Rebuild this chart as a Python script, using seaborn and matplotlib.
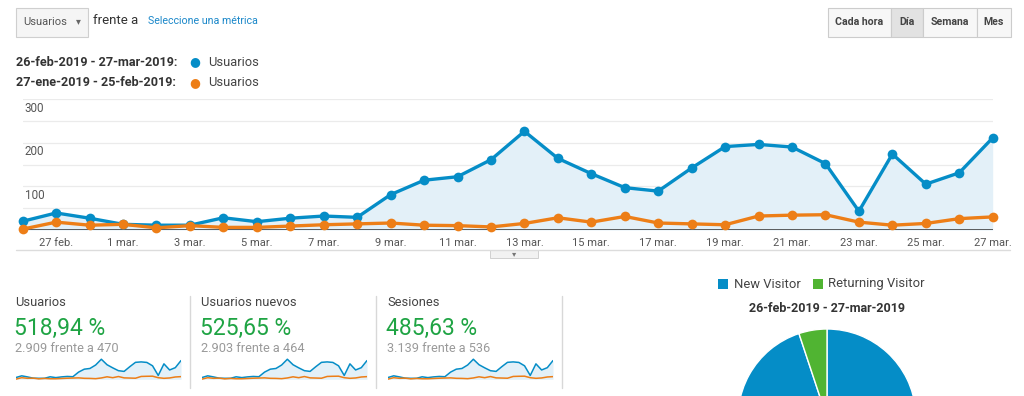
import matplotlib
matplotlib.use("Agg")
import matplotlib.pyplot as plt
from matplotlib.patches import Rectangle
from matplotlib.lines import Line2D
import pandas as pd
import seaborn as sns

# usuarios por dia, 26-feb-2019 .. 27-mar-2019 (actual) y 27-ene .. 25-feb (anterior)
current_users = [20, 39, 27, 13, 11, 11, 28, 19, 27, 32, 29, 81, 114, 122, 161,
                 226, 164, 129, 97, 89, 142, 191, 196, 190, 152, 43, 174, 105, 131, 211]
previous_users = [2, 18, 11, 13, 5, 10, 6, 6, 9, 12, 14, 16, 11, 10, 7,
                  15, 28, 18, 31, 16, 14, 12, 32, 34, 35, 18, 11, 15, 26, 30]
x_tick_pos = [1, 3, 5, 7, 9, 11, 13, 15, 17, 19, 21, 23, 25, 27, 29]
x_tick_labels = ['27 feb.', '1 mar.', '3 mar.', '5 mar.', '7 mar.', '9 mar.', '11 mar.',
                 '13 mar.', '15 mar.', '17 mar.', '19 mar.', '21 mar.', '23 mar.',
                 '25 mar.', '27 mar.']
y_ticks = [100, 200, 300]

range_current = '26-feb-2019 - 27-mar-2019:'
range_previous = '27-ene-2019 - 25-feb-2019:'

metric_names = ['Usuarios', 'Usuarios nuevos', 'Sesiones']
metric_change = ['518,94 %', '525,65 %', '485,63 %']
metric_compare = ['2.909 frente a 470', '2.903 frente a 464', '3.139 frente a 536']

pie_labels = ['New Visitor', 'Returning Visitor']
pie_values = [94.9, 5.1]

period_buttons = ['Cada hora', 'Día', 'Semana', 'Mes']

BLUE = '#058dc7'
ORANGE = '#ed7e17'
FILL = '#e3f0f8'
GREEN = '#1fa444'
PIE_GREEN = '#50b432'

sns.set_style('white')
plt.rcParams['font.family'] = ['Roboto', 'DejaVu Sans']

W, H = 1024, 396
fig = plt.figure(figsize=(W / 100, H / 100), dpi=100)


def px_axes(x0, y0, x1, y1):
    return fig.add_axes([x0 / W, 1 - y1 / H, (x1 - x0) / W, (y1 - y0) / H])


def ftext(x, y, s, **kw):
    kw.setdefault('va', 'center')
    return fig.text(x / W, 1 - y / H, s, **kw)


def fline(x0, y0, x1, y1, **kw):
    fig.add_artist(Line2D([x0 / W, x1 / W], [1 - y0 / H, 1 - y1 / H], **kw))


def fbox(x0, y0, x1, y1, **kw):
    fig.add_artist(Rectangle((x0 / W, 1 - y1 / H), (x1 - x0) / W, (y1 - y0) / H,
                             transform=fig.transFigure, **kw))


df = pd.DataFrame({'dia': range(len(current_users)),
                   'actual': current_users,
                   'anterior': previous_users})

# ---------- barra superior ----------
fbox(16, 8, 88, 37, facecolor='#f5f5f5', edgecolor='#cfcfcf', lw=0.8)
ftext(23, 22, 'Usuarios', fontsize=8, color='#555')
ftext(78, 21, '▾', fontsize=7, color='#666', ha='center', family='DejaVu Sans')
ftext(93, 20, 'frente a', fontsize=9.5, color='#333')
ftext(148, 21, 'Seleccione una métrica', fontsize=7.7, color='#1a87c9')

bx = [828, 891, 923, 977, 1011]
for i, lab in enumerate(period_buttons):
    fbox(bx[i], 8, bx[i + 1], 37, facecolor='#e2e2e2' if i == 1 else '#f7f7f7',
         edgecolor='#cccccc', lw=0.8)
    ftext((bx[i] + bx[i + 1]) / 2, 22, lab, fontsize=7.6, fontweight='bold',
          color='#444', ha='center')

# leyenda
for yy, rng, col in [(62, range_current, BLUE), (83, range_previous, ORANGE)]:
    ftext(16, yy, rng, fontsize=9.1, fontweight='bold', color='#333')
    ftext(195, yy, '●', fontsize=9, color=col, ha='center', family='DejaVu Sans')
    ftext(208, yy, 'Usuarios', fontsize=9.3, color='#444')

# ---------- grafico principal ----------
ax = px_axes(22.7, 99, 992.7, 230)
for v in [50, 100, 150, 200, 250, 300]:
    ax.axhline(v, color='#ebebeb', lw=0.9, zorder=0)
ax.fill_between(df['dia'], 0, df['actual'], color=FILL, zorder=1, lw=0)
sns.lineplot(data=df, x='dia', y='actual', ax=ax, color=BLUE, lw=2.4,
             marker='o', markersize=7, markeredgewidth=0, zorder=3, clip_on=False)
sns.lineplot(data=df, x='dia', y='anterior', ax=ax, color=ORANGE, lw=2.4,
             marker='o', markersize=7, markeredgewidth=0, zorder=4, clip_on=False)
ax.axhline(0, color='#333', lw=1.1, zorder=2)
ax.set_xlim(0, len(current_users) - 1)
ax.set_ylim(0, 300)
ax.set_xticks(x_tick_pos)
ax.set_xticklabels(x_tick_labels, fontsize=8, color='#555')
ax.tick_params(axis='x', length=0, pad=6)
ax.set_yticks([])
ax.set_xlabel('')
ax.set_ylabel('')
sns.despine(ax=ax, left=True, bottom=True)
for v, lab in zip(y_ticks, y_ticks):
    ax.annotate(str(lab), xy=(0, v), xycoords='data', xytext=(2, -9),
                textcoords='offset pixels', fontsize=8.4, color='#555',
                va='center', ha='left')

fline(16, 250, 1010, 250, color='#dcdcdc', lw=1)
fbox(490, 250, 538, 258, facecolor='#f2f2f2', edgecolor='#d0d0d0', lw=0.7)
ftext(514, 253.5, '▾', fontsize=6, color='#777', ha='center', family='DejaVu Sans')

# ---------- tarjetas de metricas ----------
for i, name in enumerate(metric_names):
    x0 = 14 + i * 186
    ftext(x0 + 1, 302.5, name, fontsize=9.3, color='#444')
    ftext(x0, 328.5, metric_change[i], fontsize=16.5, color=GREEN)
    ftext(x0 + 1, 349, metric_compare[i], fontsize=9.2, color='#9a9a9a')
    sp = px_axes(16 + i * 186, 358, 181 + i * 186, 380)
    sp.fill_between(df['dia'], 0, df['actual'], color=FILL, lw=0)
    sns.lineplot(data=df, x='dia', y='actual', ax=sp, color=BLUE, lw=1.1)
    sns.lineplot(data=df, x='dia', y='anterior', ax=sp, color=ORANGE, lw=1.1)
    sp.set_xlim(0, len(current_users) - 1)
    sp.set_ylim(-8, 240)
    sp.axis('off')
    fline(190 + i * 186, 296, 190 + i * 186, 388, color='#d8d8d8', lw=1)

# ---------- tarta ----------
fbox(718, 279, 728, 289, facecolor=BLUE, edgecolor='none')
ftext(734, 284, pie_labels[0], fontsize=9.4, color='#444')
fbox(813, 279, 823, 289, facecolor=PIE_GREEN, edgecolor='none')
ftext(828, 284, pie_labels[1], fontsize=9.4, color='#444')
ftext(827, 308, range_current.rstrip(':'), fontsize=9, fontweight='bold',
      color='#333', ha='center')

pax = px_axes(738, 329, 916, 507)
pax.pie(pie_values, colors=[BLUE, PIE_GREEN], startangle=90, counterclock=False,
        radius=1, wedgeprops=dict(edgecolor='white', linewidth=1))
pax.set_xlim(-1, 1)
pax.set_ylim(-1, 1)
pax.set_aspect('equal')
pax.axis('off')

fig.savefig('out.png', dpi=100)
